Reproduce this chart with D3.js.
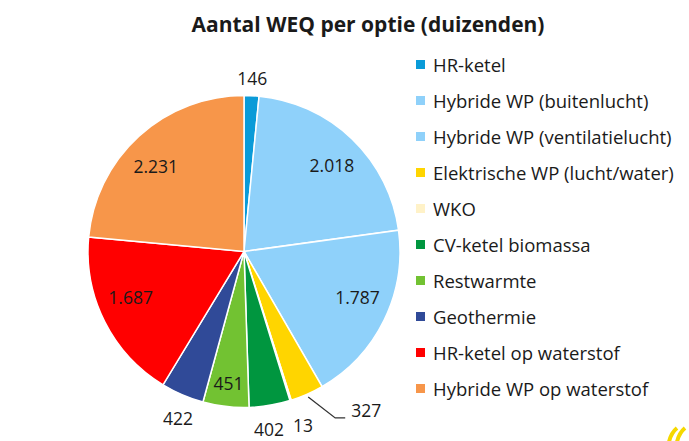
<!DOCTYPE html>
<html>
<head>
<meta charset="utf-8">
<script src="https://cdn.jsdelivr.net/npm/d3@7"></script>
<style>
  body { margin: 0; background: #fff; }
  text { font-family: "Open Sans", "Liberation Sans", sans-serif; fill: #1a1a1a; }
</style>
</head>
<body>
<script>
const categories = [
  "HR-ketel",
  "Hybride WP (buitenlucht)",
  "Hybride WP (ventilatielucht)",
  "Elektrische WP (lucht/water)",
  "WKO",
  "CV-ketel biomassa",
  "Restwarmte",
  "Geothermie",
  "HR-ketel op waterstof",
  "Hybride WP op waterstof"
];
const values = [146, 2018, 1787, 327, 13, 402, 451, 422, 1687, 2231];
const labels = ["146", "2.018", "1.787", "327", "13", "402", "451", "422", "1.687", "2.231"];
const colors = ["#0a9bd8", "#8fd1fa", "#8fd1fa", "#ffd500", "#fff2c8", "#00963f",
                "#72c232", "#304a98", "#ff0000", "#f7964a"];

const width = 689, height = 441;
const cx = 244, cy = 251.5, R = 156;

const svg = d3.select("body").append("svg")
    .attr("width", width)
    .attr("height", height);

svg.append("text")
    .attr("x", 368)
    .attr("y", 32)
    .attr("text-anchor", "middle")
    .attr("font-size", 21)
    .attr("font-weight", "bold")
    .text("Aantal WEQ per optie (duizenden)");

const pie = d3.pie().sort(null).value(d => d);
const arcs = pie(values);
const arc = d3.arc().innerRadius(0).outerRadius(R);

const g = svg.append("g").attr("transform", `translate(${cx},${cy})`);

g.selectAll("path")
  .data(arcs)
  .join("path")
    .attr("d", arc)
    .attr("fill", (d, i) => colors[i])
    .attr("stroke", "#fff")
    .attr("stroke-width", 1.5);

// label placement, roughly like Excel's best fit
const place = ["out", "in", "in", "leader", "out", "out", "in", "out", "in", "in"];
const nudge = [0, 2, -4, 0, -1.3, 1.5, 0, -1.8, 4.5, -3.8]; // degrees
const pt = (a, r) => [r * Math.sin(a), -r * Math.cos(a)];
const mid = d => (d.startAngle + d.endAngle) / 2;

arcs.forEach((d, i) => {
  let p, a = mid(d) + nudge[i] * Math.PI / 180;
  if (place[i] === "in") {
    p = pt(a, i === 6 ? R * 0.855 : R * 0.785);
  } else if (place[i] === "out") {
    p = pt(a, i === 0 ? R + 17 : i === 4 ? R + 28 : R + 24);
  } else {
    const s = pt(mid(d), R + 3);
    const e = [s[0] + 27, s[1] + 21];
    g.append("polyline")
        .attr("points", [s, e, [e[0] + 10, e[1]]].map(q => q.join(",")).join(" "))
        .attr("fill", "none")
        .attr("stroke", "#333")
        .attr("stroke-width", 1.3);
    p = [e[0] + 31, e[1] - 7];
  }
  g.append("text")
      .attr("x", p[0])
      .attr("y", p[1])
      .attr("dy", "0.35em")
      .attr("text-anchor", "middle")
      .attr("font-size", 17.5)
      .text(labels[i]);
});

// legend
const legend = svg.append("g")
  .selectAll("g")
  .data(categories)
  .join("g")
    .attr("transform", (d, i) => `translate(416,${64.5 + i * 36})`);

legend.append("rect")
    .attr("x", 0)
    .attr("y", -4.5)
    .attr("width", 9)
    .attr("height", 9)
    .attr("fill", (d, i) => colors[i]);

legend.append("text")
    .attr("x", 17)
    .attr("y", 1)
    .attr("dy", "0.35em")
    .attr("font-size", 18.5)
    .text(d => d);

// corner logo fragment
svg.append("g")
    .attr("stroke", "#f5d800")
    .attr("stroke-width", 4)
    .attr("fill", "none")
  .selectAll("path")
  .data([0, 8])
  .join("path")
    .attr("d", d => `M${677 + d},${428} q-6,5 -8,14`);
</script>
</body>
</html>
